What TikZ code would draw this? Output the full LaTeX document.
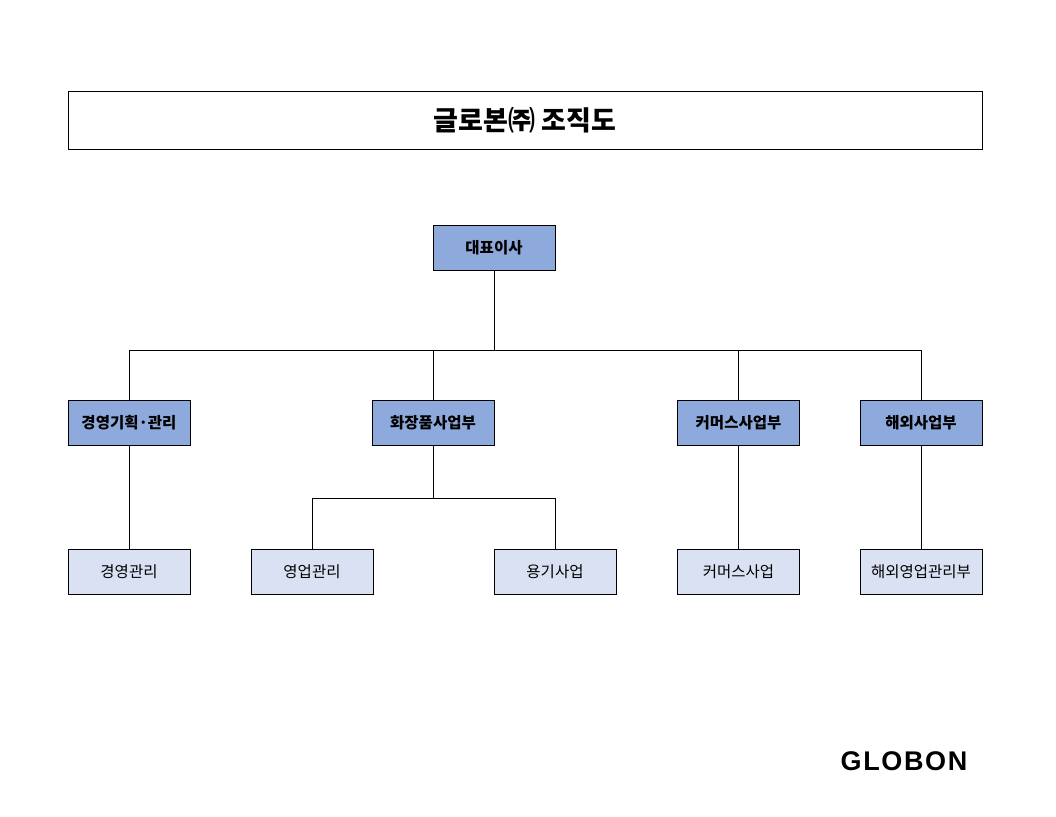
\documentclass[tikz,border=0pt]{standalone}
\usepackage{fontspec}
\setmainfont{Noto Sans CJK KR}
\newfontfamily\logofont[LetterSpace=6]{Liberation Sans}
\usetikzlibrary{positioning}
\definecolor{topblue}{HTML}{8EA9DB}
\definecolor{lightblue}{HTML}{D9E1F2}
\tikzset{
    head/.style={draw,fill=topblue,minimum width=122pt,minimum height=45pt,inner sep=0pt,font=\fontsize{15.5}{17}\selectfont\bfseries},
    unit/.style={draw,fill=lightblue,minimum width=122pt,minimum height=45pt,inner sep=0pt,font=\fontsize{15.5}{17}\selectfont}
}
\begin{document}
\begin{tikzpicture}[x=1pt,y=-1pt]
    \useasboundingbox (0,0) rectangle (1056,816);
    \node[draw,minimum width=914pt,minimum height=58pt,font=\fontsize{27}{30}\selectfont\bfseries] (title) at (525,120) {글로본㈜ 조직도};
    
    \node[head] (ceo) at (494,247.5) {대표이사};
    \node[head] (plan) at (129,423) {경영기획·관리};
    \node[head] (cos) at (433,423) {화장품사업부};
    \node[head] (com) at (738.5,423) {커머스사업부};
    \node[head] (ovs) at (921,423) {해외사업부};
    
    \node[unit] (mgmt) at (129,572) {경영관리};
    \node[unit] (sales) at (312,572) {영업관리};
    \node[unit] (cont) at (555,572) {용기사업};
    \node[unit] (combiz) at (738.5,572) {커머스사업};
    \node[unit] (ovsales) at (921,572) {해외영업관리부};
    
    \draw (ceo.south) -- (494,350);
    \draw (plan.north) |- (ovs.north |- 0,350) -- (ovs.north);
    \draw (cos.north) -- (cos.north |- 0,350);
    \draw (com.north) -- (com.north |- 0,350);
    \draw (cos.south) -- (433,498);
    \draw (sales.north) |- (cont.north |- 0,498) -- (cont.north);
    \draw (plan.south) -- (mgmt.north);
    \draw (com.south) -- (combiz.north);
    \draw (ovs.south) -- (ovsales.north);
    
    \node[font=\logofont\fontsize{27}{30}\selectfont\bfseries] (logo) at (904,761) {GLOBON};
\end{tikzpicture}
\end{document}
